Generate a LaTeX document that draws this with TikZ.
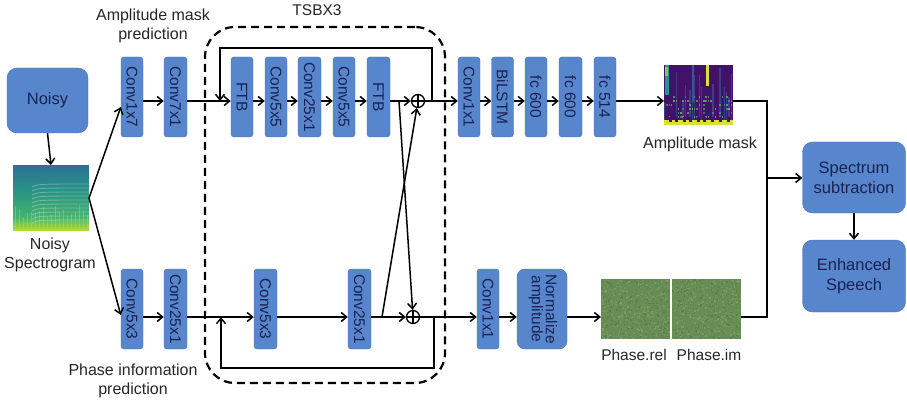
\documentclass[tikz,border=0pt]{standalone}
\usepackage{fontspec}
\setmainfont{Liberation Sans}
\usepackage{graphicx}
\usetikzlibrary{arrows.meta,calc}
\definecolor{boxfill}{RGB}{88,134,205}
\definecolor{boxline}{RGB}{72,114,184}
\definecolor{boxtext}{RGB}{26,34,82}
\definecolor{spA}{RGB}{46,112,146}
\definecolor{spB}{RGB}{40,146,134}
\definecolor{spC}{RGB}{70,178,108}
\definecolor{spD}{RGB}{185,222,55}
\definecolor{vdark}{RGB}{66,18,104}
\definecolor{vblue}{RGB}{60,82,150}
\definecolor{vteal}{RGB}{38,150,142}
\definecolor{vyel}{RGB}{215,225,60}
\definecolor{phA}{RGB}{86,124,76}
\definecolor{phB}{RGB}{128,158,98}
\definecolor{phBase}{RGB}{104,140,86}
\begin{document}
\begin{tikzpicture}[x=1pt,y=-1pt,
  blk/.style={draw=boxline, fill=boxfill, rounded corners=3pt, inner sep=0pt,
    minimum width=22pt, minimum height=80pt, text=boxtext,
    font=\fontsize{15.5}{17}\selectfont},
  bigblk/.style={draw=boxline, fill=boxfill, rounded corners=10pt, inner sep=0pt,
    text=boxtext, font=\fontsize{16.5}{20}\selectfont, align=center},
  lbl/.style={font=\fontsize{16}{19}\selectfont, align=center, text=black!85, inner sep=0pt},
  arr/.style={-{Straight Barb[length=5.5pt,width=9pt]}, line width=1.5pt},
  ln/.style={line width=1.5pt},
  sumop/.style={circle, draw, line width=1.3pt, minimum size=13pt, inner sep=0pt,
    path picture={\draw[line width=1.3pt] (path picture bounding box.north) -- (path picture bounding box.south)
      (path picture bounding box.west) -- (path picture bounding box.east);}},
  img/.style={inner sep=0pt, outer sep=0pt}
]
\useasboundingbox (0,0) rectangle (907,406);

% ---------- left side ----------
\node[bigblk, minimum width=81pt, minimum height=65pt] (noisy) at (47.5,100.5) {Noisy};
\node[img, minimum width=76pt, minimum height=66pt] (spec) at (51,198) {};
\begin{scope}
  \clip (13,165) rectangle (89,231);
  \foreach \i in {0,...,65} {
    \pgfmathsetmacro{\yy}{165+\i}
    \pgfmathtruncatemacro{\seg}{\i<24 ? 0 : (\i<52 ? 1 : 2)}
    \ifcase\seg
      \pgfmathtruncatemacro{\pc}{100*\i/24}
      \fill[spB!\pc!spA] (13,\yy) rectangle (89,\yy+1.3);
    \or
      \pgfmathtruncatemacro{\pc}{100*(\i-24)/28}
      \fill[spC!\pc!spB] (13,\yy) rectangle (89,\yy+1.3);
    \or
      \pgfmathtruncatemacro{\pc}{100*(\i-52)/14}
      \fill[spD!\pc!spC] (13,\yy) rectangle (89,\yy+1.3);
    \fi
  }
  \foreach \yy in {184,188,192,196,200,204,208,212,216,220} {
    \draw[white, opacity=0.28, line width=0.9pt] (32,\yy+3) .. controls (38,\yy) .. (89,\yy);
  }
  \pgfmathsetseed{3}
  \foreach \xx in {15,19,...,87} {
    \pgfmathsetmacro{\tp}{205+rnd*12}
    \fill[spD, opacity=0.45] (\xx,\tp) rectangle (\xx+1.4,231);
  }
\end{scope}
\node[lbl] (speclbl) at (50,255) {Noisy\\Spectrogram};
\draw[arr] (noisy.south) -- (spec.north);

\node[lbl] (ampl) at (153,26) {Amplitude mask\\prediction};
\node[lbl] (phasel) at (133,381) {Phase information\\prediction};
\node[font=\fontsize{15.5}{18}\selectfont, text=black!85] (tsbt) at (317,10) {TSBX3};

% ---------- TSB container ----------
\node[draw, line width=2.2pt, dash pattern=on 8pt off 5pt, rounded corners=30pt,
  minimum width=240pt, minimum height=356pt, inner sep=0pt] (tsb) at (325,205) {};

% ---------- top row ----------
\coordinate (ytop) at (0,101);
\coordinate (ybot) at (0,317);
\node[blk] (c17) at (132,97) {\rotatebox{-90}{Conv1x7}};
\node[blk, minimum width=23pt] (c71) at (175.5,97) {\rotatebox{-90}{Conv7x1}};
\node[blk] (ftb1) at (242,97) {\rotatebox{-90}{FTB}};
\node[blk] (c55a) at (276,97) {\rotatebox{-90}{Conv5x5}};
\node[blk, minimum width=23pt] (c251) at (309.5,97) {\rotatebox{-90}{Conv25x1}};
\node[blk] (c55b) at (344,97) {\rotatebox{-90}{Conv5x5}};
\node[blk, minimum width=23pt] (ftb2) at (378.5,97) {\rotatebox{-90}{FTB}};
\node[sumop] (plus1) at (418,101) {};
\node[blk] (c11a) at (469,97) {\rotatebox{-90}{Conv1x1}};
\node[blk] (bilstm) at (502.5,97) {\rotatebox{-90}{BiLSTM}};
\node[blk] (fc1) at (536,97) {\rotatebox{-90}{fc 600}};
\node[blk, minimum width=23pt] (fc2) at (570.5,97) {\rotatebox{-90}{fc 600}};
\node[blk] (fc3) at (605,97) {\rotatebox{-90}{fc 514}};

% amplitude mask image
\node[img, minimum width=69pt, minimum height=60pt] (mask) at (698.5,95) {};
\pgfmathsetseed{11}
\begin{scope}
  \clip (664,65) rectangle (733,125);
  \fill[vdark] (664,65) rectangle (733,125);
  \foreach \xx in {664,666.3,...,731} {
    \pgfmathsetmacro{\r}{rnd}
    \pgfmathsetmacro{\top}{65+rnd*40}
    \ifdim \r pt > 0.45pt
      \fill[vblue, opacity=0.7] (\xx,\top) rectangle (\xx+1.3,125);
    \fi
  }
  \foreach \xx in {664,666.3,...,731} {
    \foreach \yy in {96,100,...,116} {
      \pgfmathsetmacro{\r}{rnd}
      \ifdim \r pt > 0.65pt
        \pgfmathtruncatemacro{\mix}{40+rnd*60}
        \fill[vteal!\mix!vyel, opacity=0.75] (\xx,\yy) rectangle (\xx+1.5,\yy+1.8);
      \fi
    }
  }
  \fill[vteal] (665,65) rectangle (669,95);
  \fill[vyel!60!vteal] (665,67) rectangle (668,76);
  \fill[vyel] (706,65) rectangle (708.5,86);
  \fill[vblue] (692,65) rectangle (694,102);
  \fill[vyel] (664,120) rectangle (733,125);
  \foreach \xx in {669,675,683,689,697,703,711,719,727} {
    \fill[vdark] (\xx,117) rectangle (\xx+2.5,122);
  }
\end{scope}
\node[lbl] (masklbl) at (700,144) {Amplitude mask};

% ---------- bottom row ----------
\node[blk] (c53) at (132,309) {\rotatebox{-90}{Conv5x3}};
\node[blk, minimum width=23pt] (c251b) at (175.5,309) {\rotatebox{-90}{Conv25x1}};
\node[blk, minimum width=23pt] (c53i) at (265.5,309) {\rotatebox{-90}{Conv5x3}};
\node[blk, minimum width=23pt] (c251i) at (359.5,309) {\rotatebox{-90}{Conv25x1}};
\node[sumop] (plus2) at (413,317) {};
\node[blk] (c11b) at (488,309) {\rotatebox{-90}{Conv1x1}};
\node[blk, rounded corners=8pt, minimum width=50pt] (norm) at (542,309)
  {\rotatebox{-90}{\fontsize{15.5}{16}\selectfont\begin{tabular}{@{}c@{}}Normalize\\[-2pt]amplitude\end{tabular}}};

% phase images
\node[img, minimum width=69pt, minimum height=60pt] (phrel) at (635.5,309) {};
\node[img, minimum width=69pt, minimum height=60pt] (phim) at (706.5,309) {};
\fill[phBase] (601,279) rectangle (670,339);
\fill[phBase] (672,279) rectangle (741,339);
\pgfmathsetseed{5}
\foreach \k in {1,...,900} {
  \pgfmathsetmacro{\rx}{601+rnd*67.5}
  \pgfmathsetmacro{\ry}{279+rnd*58.5}
  \pgfmathtruncatemacro{\mx}{rnd*100}
  \fill[phA!\mx!phB] (\rx,\ry) rectangle (\rx+1.5,\ry+1.5);
  \pgfmathsetmacro{\sx}{672+rnd*67.5}
  \pgfmathsetmacro{\sy}{279+rnd*58.5}
  \pgfmathtruncatemacro{\nx}{rnd*100}
  \fill[phA!\nx!phB] (\sx,\sy) rectangle (\sx+1.5,\sy+1.5);
}
\node[lbl, font=\fontsize{15.5}{19}\selectfont] (rellbl) at (634,355) {Phase.rel};
\node[lbl, font=\fontsize{15.5}{19}\selectfont] (imlbl) at (709,355) {Phase.im};

% ---------- right side ----------
\node[bigblk, minimum width=103pt, minimum height=71pt] (sub) at (854,177.5) {Spectrum\\subtraction};
\node[bigblk, minimum width=103pt, minimum height=72pt] (enh) at (854,276) {Enhanced\\Speech};

% ---------- connectors ----------
\draw[arr] (spec.east) -- (c17.west |- 0,107);
\draw[arr] (spec.east) -- (c53.west |- 0,315);

\draw[arr] (c17.east |- ytop) -- (c71.west |- ytop);
\draw[arr] (c71.east |- ytop) -- (ftb1.west |- ytop);
\draw[arr] (ftb1.east |- ytop) -- (c55a.west |- ytop);
\draw[arr] (c55a.east |- ytop) -- (c251.west |- ytop);
\draw[arr] (c251.east |- ytop) -- (c55b.west |- ytop);
\draw[arr] (c55b.east |- ytop) -- (ftb2.west |- ytop);
\draw[arr] (ftb2.east |- ytop) -- (plus1.west);
\coordinate (t1) at (432,101);
\coordinate (tl1) at (432,48);
\coordinate (tl2) at (220,48);
\coordinate (tl3) at (220,101);
\draw[arr] (plus1.east) -- (c11a.west |- ytop);
\draw[arr] (t1) -- (tl1) -- (tl2) -- (tl3);
\draw[arr] (c11a.east |- ytop) -- (bilstm.west |- ytop);
\draw[arr] (bilstm.east |- ytop) -- (fc1.west |- ytop);
\draw[arr] (fc1.east |- ytop) -- (fc2.west |- ytop);
\draw[arr] (fc2.east |- ytop) -- (fc3.west |- ytop);
\draw[arr] (fc3.east |- ytop) -- (mask.west |- ytop);

\draw[arr] (c53.east |- ybot) -- (c251b.west |- ybot);
\draw[arr] (c251b.east |- ybot) -- (c53i.west |- ybot);
\draw[arr] (c53i.east |- ybot) -- (c251i.west |- ybot);
\draw[arr] (c251i.east |- ybot) -- (plus2.west);
\coordinate (b1) at (434,317);
\coordinate (bl1) at (434,368);
\coordinate (bl2) at (221,368);
\coordinate (bl3) at (221,317);
\draw[arr] (plus2.east) -- (c11b.west |- ybot);
\draw[arr] (b1) -- (bl1) -- (bl2) -- (bl3);
\draw[arr] (c11b.east |- ybot) -- (norm.west |- ybot);
\draw[arr] (norm.east |- ybot) -- (phrel.west |- ybot);

\coordinate (xa) at (399,101);
\coordinate (xb) at (382,317);
\draw[arr] (xa) -- (plus2);
\draw[arr] (xb) -- (plus1);

\coordinate (r1) at (767,101);
\coordinate (r2) at (767,317);
\coordinate (r3) at (767,178);
\draw[ln] (mask.east |- ytop) -- (r1) -- (r2) -- (phim.east |- ybot);
\draw[arr] (r3) -- (sub.west |- r3);
\draw[arr] (sub.south) -- (enh.north);
\end{tikzpicture}
\end{document}
